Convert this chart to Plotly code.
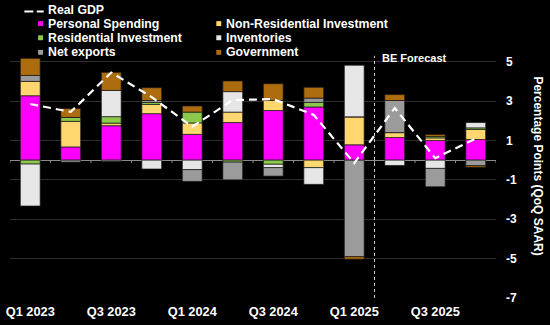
import plotly.graph_objects as go

quarters = ["Q1 2023", "Q2 2023", "Q3 2023", "Q4 2023", "Q1 2024", "Q2 2024",
            "Q3 2024", "Q4 2024", "Q1 2025", "Q2 2025", "Q3 2025", "Q4 2025"]
tick_quarters = ["Q1 2023", "Q3 2023", "Q1 2024", "Q3 2024", "Q1 2025", "Q3 2025"]

personal_spending = [3.27, 0.67, 1.75, 2.36, 1.31, 1.91, 2.52, 2.70, 0.78, 1.15, 1.00, 1.05]
nonres_investment = [0.73, 1.30, 0.13, 0.47, 0.58, 0.53, 0.51, -0.38, 1.42, 0.25, 0.13, 0.51]
res_investment = [-0.20, 0.20, 0.33, 0.10, 0.55, -0.10, -0.21, 0.23, 0.00, 0.00, 0.07, 0.08]
inventories = [-2.13, 0.00, 1.33, -0.45, -0.48, 1.04, -0.17, -0.85, 2.62, -0.27, -0.42, 0.27]
net_exports = [0.30, -0.10, -0.07, 0.10, -0.60, -0.90, -0.43, 0.22, -4.90, 1.63, -0.93, -0.28]
government = [0.87, 0.45, 0.92, 0.65, 0.31, 0.54, 0.85, 0.55, -0.13, 0.30, 0.10, -0.08]
real_gdp = [2.85, 2.45, 4.45, 3.20, 1.70, 3.05, 3.10, 2.30, -0.15, 2.65, 0.10, 1.10]

y_ticks = [5, 3, 1, -1, -3, -5, -7]

series = [
    ("Personal Spending", personal_spending, "#FF00FF"),
    ("Non-Residential Investment", nonres_investment, "#FFD76E"),
    ("Residential Investment", res_investment, "#8CC84B"),
    ("Inventories", inventories, "#E6E6E6"),
    ("Net exports", net_exports, "#9B9B9B"),
    ("Government", government, "#AD6C0E"),
]

W, H = 550, 325
L, R, T, B = 6, 54, 42, 23
PW, PH = W - L - R, H - T - B


def px(x):
    return (x - L) / PW


def py(y):
    return (H - B - y) / PH


FONT = "Liberation Sans, Arial, sans-serif"

fig = go.Figure()
for name, vals, col in series:
    fig.add_trace(go.Bar(
        x=quarters, y=vals, name=name, width=0.49,
        marker=dict(color=col, line=dict(color="#1a1a1a", width=0.7)),
        showlegend=False,
    ))

fig.add_trace(go.Scatter(
    x=quarters, y=real_gdp, name="Real GDP", mode="lines",
    line=dict(color="white", width=2.2, dash="8px,5px"),
    showlegend=False,
))

shapes = []
annotations = []

# forecast divider
shapes.append(dict(type="line", xref="x", yref="y", x0=8.5, x1=8.5, y0=-7, y1=5.3,
                   line=dict(color="#cccccc", width=1, dash="dot")))
annotations.append(dict(text="<b>BE Forecast</b>", xref="paper", yref="paper",
                        x=px(379), y=py(58), xanchor="left", yanchor="middle",
                        showarrow=False, font=dict(family=FONT, size=11, color="white")))

# tick marks on zero line
for i in range(13):
    shapes.append(dict(type="line", xref="x", yref="y", x0=i - 0.5, x1=i - 0.5,
                       y0=0, y1=-0.15, line=dict(color="#8a8a8a", width=1)))

# legend (drawn as text + swatches)
leg_font = dict(family=FONT, size=12.3, color="white")
shapes.append(dict(type="line", xref="paper", yref="paper", x0=px(20.5), x1=px(29.5),
                   y0=py(11), y1=py(11), line=dict(color="white", width=2)))
shapes.append(dict(type="line", xref="paper", yref="paper", x0=px(33), x1=px(40),
                   y0=py(11), y1=py(11), line=dict(color="white", width=2)))
annotations.append(dict(text="<b>Real GDP</b>", xref="paper", yref="paper",
                        x=px(42), y=py(9), xanchor="left", yanchor="middle",
                        showarrow=False, font=leg_font))

rows = [23.3, 37.7, 52.5]
cols = [(34.3, 42), (214, 221.5)]
for k, (name, _, col) in enumerate(series):
    r, c = k // 2, k % 2
    sx, tx = cols[c]
    yy = rows[r]
    shapes.append(dict(type="rect", xref="paper", yref="paper",
                       x0=px(sx), x1=px(sx + 5), y0=py(yy + 2.5), y1=py(yy - 2.5),
                       fillcolor=col, line=dict(width=0)))
    annotations.append(dict(text="<b>" + name + "</b>", xref="paper", yref="paper",
                            x=px(tx), y=py(yy), xanchor="left", yanchor="middle",
                            showarrow=False, font=leg_font))

# right axis title (reads top to bottom)
annotations.append(dict(text="<b>Percentage Points (QoQ SAAR)</b>", xref="paper", yref="paper",
                        x=px(538), y=py(168), xanchor="center", yanchor="middle",
                        textangle=90, showarrow=False,
                        font=dict(family=FONT, size=12, color="white")))

fig.update_layout(
    width=W, height=H,
    margin=dict(l=L, r=R, t=T, b=B, pad=0),
    paper_bgcolor="black", plot_bgcolor="black",
    barmode="relative",
    showlegend=False,
    font=dict(family=FONT, color="white", size=12),
    shapes=shapes,
    annotations=annotations,
    xaxis=dict(
        type="category", categoryorder="array", categoryarray=quarters,
        range=[-0.5, 11.5],
        tickvals=tick_quarters, ticktext=["<b>" + t + "</b>" for t in tick_quarters],
        showgrid=False, zeroline=False, showline=False, ticks="",
        tickfont=dict(family=FONT, size=12.8, color="white"),
        ticklabelstandoff=4,
    ),
    yaxis=dict(
        side="right", range=[-7, 6],
        tickvals=y_ticks, ticktext=["<b>%d</b>" % v for v in y_ticks],
        showgrid=True, gridcolor="#2e2e2e", gridwidth=1,
        zeroline=True, zerolinecolor="#8a8a8a", zerolinewidth=1,
        showline=False, ticks="",
        tickfont=dict(family=FONT, size=12, color="white"),
        ticklabelstandoff=9,
    ),
)

fig.write_html("out.html")
